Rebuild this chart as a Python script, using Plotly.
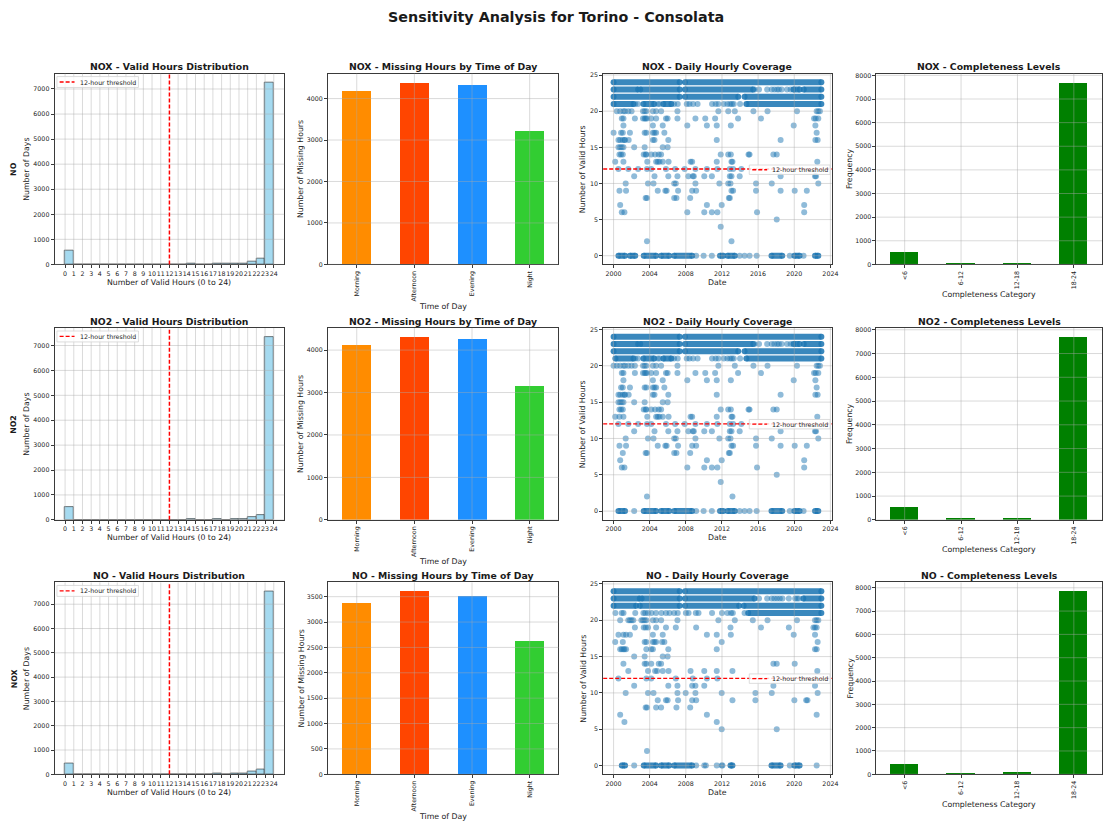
import plotly.graph_objects as go
from plotly.subplots import make_subplots

W, H = 1115, 825
FONT = "DejaVu Sans"

# ---------------- data ----------------
SUPTITLE = "Sensitivity Analysis for Torino - Consolata"
TITLE_POLLUTANTS = ["NOX", "NO2", "NO"]      # used in subplot titles
ROW_LABELS = ["NO", "NO2", "NOX"]            # bold row labels on the left

HIST_EDGES = list(range(0, 25))               # bin edges 0..24 (also tick labels)
HIST_COUNTS_NOX = [565, 3, 2, 3, 2, 3, 5, 6, 5, 8, 9, 10, 10, 12, 14, 12, 10, 15, 14, 15, 28, 107, 226, 7253]
HIST_COUNTS_NO2 = [520, 3, 2, 3, 2, 3, 5, 6, 5, 8, 9, 10, 10, 12, 14, 12, 10, 18, 12, 16, 32, 115, 213, 7336]
HIST_COUNTS_NO = [433, 2, 1, 2, 2, 2, 3, 4, 4, 6, 6, 8, 8, 9, 10, 9, 8, 28, 10, 14, 28, 120, 210, 7520]

TIME_OF_DAY = ["Morning", "Afternoon", "Evening", "Night"]
TOD_COLORS = ["#FF8C00", "#FF4500", "#1E90FF", "#32CD32"]
MISSING_NOX = [4192, 4384, 4344, 3232]
MISSING_NO2 = [4117, 4305, 4258, 3162]
MISSING_NO = [3363, 3600, 3507, 2622]

COMPLETENESS_CATS = ["<6", "6-12", "12-18", "18-24"]
COMPLETE_NOX = [548, 55, 95, 7692]
COMPLETE_NO2 = [521, 50, 85, 7689]
COMPLETE_NO = [440, 35, 65, 7835]

THRESHOLD = 12

# Daily coverage scatter (decimal years).  Dense runs of markers as (start, end) runs per level.
BANDS_NOX = {
    24: [(2000.0, 2007.32), (2007.90, 2023.0)],
    23: [(2000.0, 2002.72), (2002.95, 2007.32), (2007.90, 2015.45), (2019.9, 2020.6), (2021.05, 2023.0)],
    22: [(2000.0, 2007.32), (2007.90, 2013.8), (2014.5, 2023.0)],
    21: [(2000.0, 2002.2), (2003.3, 2004.5), (2005.5, 2006.4), (2014.7, 2023.0)],
    0: [(2000.54, 2001.27), (2001.81, 2002.40), (2003.34, 2004.71), (2005.26, 2006.16), (2006.71, 2008.70),
        (2011.78, 2012.15), (2012.62, 2013.42), (2017.48, 2018.67), (2020.01, 2020.59), (2022.30, 2022.66)],
}
POINTS_NOX = {
    23: [2015.6, 2016.1, 2017.0, 2017.5, 2017.8, 2018.1, 2018.3, 2018.6, 2019.2, 2019.6],
    21: [2002.4, 2002.7, 2004.9, 2005.1, 2006.7, 2007.1, 2008.1, 2008.4, 2008.8, 2009.3, 2010.9, 2011.3,
         2011.6, 2012.2, 2012.6, 2012.9, 2013.1, 2013.3, 2014.0],
    20: [2000.36, 2000.73, 2001.09, 2001.27, 2001.63, 2001.99, 2003.26, 2003.44, 2003.63, 2004.35, 2004.71,
         2005.26, 2007.07, 2011.60, 2012.69, 2013.42, 2015.48, 2017.04, 2020.30, 2022.48, 2022.66, 2022.84],
    19: [2000.91, 2001.09, 2002.36, 2003.26, 2003.44, 2003.55, 2003.70, 2004.17, 2004.71, 2005.80, 2005.98,
         2007.07, 2009.06, 2010.15, 2011.24, 2013.78, 2016.32, 2022.19, 2022.37, 2022.66],
    18: [2001.09, 2004.35, 2005.44, 2008.16, 2010.33, 2011.42, 2012.98, 2019.94, 2022.34],
    17: [2000.0, 2000.83, 2001.02, 2001.81, 2003.44, 2003.63, 2004.35, 2004.53, 2004.71, 2005.62, 2022.48],
    16: [2000.54, 2000.73, 2001.02, 2001.20, 2001.27, 2001.67, 2004.35, 2004.53, 2006.06, 2011.42, 2018.49,
         2022.34, 2022.59],
    15: [2000.54, 2000.73, 2000.91, 2001.09, 2002.28, 2003.44, 2005.44, 2005.98],
    14: [2000.65, 2000.83, 2001.02, 2003.34, 2003.55, 2003.63, 2004.17, 2004.60, 2005.00, 2005.26, 2011.86,
         2012.69, 2012.98, 2014.94, 2015.05, 2017.69, 2018.06],
    13: [2000.18, 2001.09, 2003.73, 2004.71, 2004.89, 2005.08, 2005.44, 2006.09, 2008.52, 2008.70, 2011.42,
         2013.05, 2013.16, 2022.55],
    12: [2000.54, 2001.63, 2002.72, 2003.70, 2004.17, 2005.80, 2006.82, 2007.87, 2009.06, 2010.33, 2011.49,
         2012.87, 2013.23, 2014.14],
    11: [2002.28, 2004.53, 2006.06, 2007.07, 2008.27, 2008.77, 2008.88, 2010.04, 2010.88, 2012.87, 2013.05,
         2013.96, 2018.49, 2022.30, 2022.41],
    10: [2001.34, 2003.81, 2004.42, 2006.71, 2006.89, 2009.06, 2011.71, 2012.69, 2012.94, 2015.77, 2017.51,
         2022.66],
    9: [2000.65, 2001.38, 2004.89, 2005.73, 2005.87, 2007.14, 2008.70, 2009.14, 2013.05, 2013.23, 2015.77,
        2018.49, 2020.05, 2021.39],
    8: [2003.55, 2003.70, 2006.71, 2006.96, 2008.48, 2012.76, 2012.87],
    7: [2000.73, 2010.33, 2011.97, 2021.10],
    6: [2000.91, 2001.20, 2008.16, 2010.04, 2010.88, 2011.49, 2015.88, 2021.10],
    5: [2018.06],
    4: [2011.86],
    2: [2003.70, 2013.05],
    0: [2009.14, 2009.97, 2010.88, 2013.96, 2014.50, 2015.05, 2015.84, 2019.51, 2021.03],
}

BANDS_NO2 = {
    24: [(2000.0, 2007.32), (2007.90, 2023.0)],
    23: [(2000.0, 2002.72), (2002.95, 2007.32), (2007.90, 2015.45), (2019.9, 2020.6), (2021.05, 2023.0)],
    22: [(2000.0, 2007.32), (2007.90, 2013.8), (2014.5, 2023.0)],
    21: [(2000.2, 2002.2), (2003.3, 2004.5), (2005.5, 2006.4), (2014.7, 2023.0)],
    0: [(2000.54, 2001.27), (2003.34, 2004.71), (2005.26, 2006.16), (2006.71, 2008.70),
        (2011.78, 2012.15), (2012.62, 2013.42), (2017.48, 2018.67), (2020.01, 2020.59), (2022.30, 2022.66)],
}
POINTS_NO2 = {
    23: [2015.6, 2016.1, 2017.0, 2017.5, 2017.8, 2018.1, 2018.3, 2018.6, 2019.2, 2019.6],
    21: [2002.4, 2002.7, 2004.9, 2005.1, 2006.7, 2007.1, 2008.1, 2008.4, 2008.8, 2009.3, 2010.9, 2011.3,
         2011.6, 2012.2, 2012.6, 2012.9, 2013.1, 2013.3, 2014.0],
    20: [2000.0, 2000.36, 2000.73, 2001.09, 2001.27, 2001.63, 2001.99, 2002.36, 2003.26, 2003.44, 2003.63,
         2004.35, 2004.71, 2005.26, 2007.07, 2011.60, 2013.42, 2015.48, 2017.04, 2020.30, 2022.48, 2022.66,
         2022.84],
    19: [2000.91, 2001.09, 2002.36, 2003.26, 2003.44, 2003.55, 2003.70, 2004.17, 2004.71, 2005.80, 2005.98,
         2007.07, 2009.06, 2010.15, 2011.24, 2013.78, 2016.32, 2022.19, 2022.37, 2022.66],
    18: [2001.09, 2004.35, 2005.44, 2008.16, 2010.33, 2011.42, 2012.98, 2019.94, 2022.34],
    17: [2000.83, 2001.02, 2001.81, 2003.44, 2003.63, 2004.35, 2004.53, 2004.71, 2005.62, 2022.48],
    16: [2000.54, 2000.73, 2001.02, 2001.20, 2001.27, 2001.67, 2004.35, 2004.53, 2006.06, 2011.42, 2018.49,
         2022.34, 2022.59],
    15: [2000.54, 2000.73, 2000.91, 2001.09, 2002.28, 2003.44, 2005.44, 2005.98],
    14: [2000.65, 2000.83, 2001.02, 2003.34, 2003.55, 2003.63, 2004.17, 2004.60, 2005.00, 2005.26, 2011.86,
         2012.69, 2012.98, 2014.94, 2015.05, 2017.69, 2018.06],
    13: [2000.18, 2000.65, 2001.09, 2003.73, 2004.71, 2004.89, 2005.08, 2005.44, 2006.09, 2008.52, 2008.70,
         2011.42, 2013.05, 2013.16, 2022.55],
    12: [2000.54, 2001.63, 2002.72, 2003.70, 2004.17, 2005.80, 2006.82, 2007.87, 2009.06, 2010.33, 2011.49,
         2012.87, 2013.23, 2014.14],
    11: [2002.28, 2004.53, 2006.06, 2007.07, 2008.27, 2008.77, 2008.88, 2010.04, 2010.88, 2012.87, 2013.05,
         2013.96, 2018.49, 2022.30, 2022.41],
    10: [2001.34, 2003.81, 2004.42, 2006.71, 2006.89, 2009.06, 2011.71, 2012.69, 2012.94, 2015.77, 2017.51,
         2022.66],
    9: [2000.65, 2001.38, 2004.89, 2005.73, 2005.87, 2007.14, 2008.70, 2009.14, 2013.05, 2013.23, 2015.77,
        2018.49, 2020.05, 2021.39],
    8: [2001.02, 2003.55, 2003.70, 2006.71, 2006.96, 2008.48, 2012.76, 2012.87],
    7: [2000.73, 2010.33, 2011.97, 2021.10],
    6: [2000.91, 2001.20, 2008.16, 2010.04, 2010.88, 2011.49, 2015.88, 2021.10],
    5: [2018.06],
    4: [2011.86],
    2: [2003.70, 2013.16],
    0: [2002.28, 2009.14, 2009.97, 2010.88, 2013.96, 2014.50, 2015.05, 2015.84, 2019.51, 2021.03],
}

BANDS_NO = {
    24: [(2000.0, 2007.32), (2007.90, 2023.0)],
    23: [(2000.0, 2002.9), (2003.1, 2007.32), (2007.90, 2015.6), (2021.0, 2023.0)],
    22: [(2000.0, 2002.5), (2002.9, 2007.32), (2007.90, 2013.9), (2014.4, 2023.0)],
    21: [(2014.9, 2023.0)],
    0: [(2000.91, 2001.27), (2003.34, 2004.71), (2005.26, 2006.16), (2006.71, 2008.70),
        (2012.94, 2013.16), (2017.48, 2018.49), (2020.01, 2020.59)],
}
POINTS_NO = {
    23: [2016.1, 2017.0, 2017.5, 2017.8, 2018.1, 2018.4, 2018.7, 2019.4, 2020.1, 2020.3, 2020.5],
    21: [2000.2, 2000.9, 2001.1, 2002.4, 2003.3, 2003.5, 2003.8, 2004.2, 2004.7, 2005.3, 2005.8, 2006.2,
         2006.7, 2007.1, 2008.0, 2008.3, 2009.1, 2009.4, 2010.9, 2012.0, 2012.6, 2013.0, 2013.2, 2014.5],
    20: [2000.73, 2001.63, 2001.81, 2001.99, 2002.18, 2003.08, 2003.26, 2003.44, 2003.63, 2004.35, 2004.71,
         2005.26, 2007.07, 2011.60, 2013.42, 2015.41, 2017.04, 2020.30, 2022.30, 2022.48, 2022.66],
    19: [2002.36, 2003.34, 2003.55, 2003.81, 2004.71, 2005.80, 2006.89, 2009.14, 2012.94, 2016.32, 2019.40,
         2022.12, 2022.30, 2022.48],
    18: [2000.54, 2001.09, 2001.38, 2001.81, 2004.35, 2005.44, 2010.33, 2011.42, 2012.98, 2019.94, 2022.30],
    17: [2000.18, 2001.02, 2003.44, 2003.63, 2004.35, 2004.53, 2004.71, 2005.37, 2005.62, 2011.97, 2022.59],
    16: [2000.73, 2000.91, 2001.09, 2001.20, 2001.38, 2003.63, 2004.17, 2004.35, 2006.06, 2011.42, 2022.30,
         2022.48],
    15: [2002.28, 2003.44, 2005.44, 2005.98],
    14: [2001.09, 2003.44, 2003.63, 2004.17, 2005.00, 2005.26, 2017.69, 2018.06, 2020.05],
    13: [2001.63, 2003.81, 2004.60, 2004.82, 2005.44, 2006.09, 2008.52, 2010.04, 2011.42, 2013.16, 2022.55],
    12: [2000.54, 2003.63, 2004.17, 2006.89, 2008.77, 2010.33, 2011.49],
    11: [2002.28, 2006.06, 2007.07, 2008.70, 2009.06, 2010.04, 2017.69, 2022.30],
    10: [2001.34, 2003.81, 2004.42, 2007.07, 2007.98, 2009.06, 2011.97, 2015.70, 2017.51, 2022.59],
    9: [2004.89, 2005.80, 2005.98, 2007.14, 2008.70, 2009.14, 2013.16, 2015.70, 2020.01, 2021.32, 2021.46],
    8: [2003.55, 2003.70, 2004.71, 2005.26, 2006.96, 2008.48],
    7: [2000.73, 2010.33, 2022.48],
    6: [2001.20, 2011.42],
    5: [2011.97, 2018.06],
    2: [2003.70],
    0: [2002.28, 2009.14, 2010.04, 2010.22, 2011.42, 2011.97, 2012.05, 2019.51, 2022.48],
}

SCATTER_XTICKS = [2000, 2004, 2008, 2012, 2016, 2020, 2024]
SCATTER_YTICKS = [0, 5, 10, 15, 20, 25]
HIST_YTICKS = [0, 1000, 2000, 3000, 4000, 5000, 6000, 7000]
MISSING_YTICKS = [[0, 1000, 2000, 3000, 4000], [0, 1000, 2000, 3000, 4000],
                  [0, 500, 1000, 1500, 2000, 2500, 3000, 3500]]
COMPLETE_YTICKS = [0, 1000, 2000, 3000, 4000, 5000, 6000, 7000, 8000]

HISTS = [HIST_COUNTS_NOX, HIST_COUNTS_NO2, HIST_COUNTS_NO]
MISSING = [MISSING_NOX, MISSING_NO2, MISSING_NO]
COMPLETE = [COMPLETE_NOX, COMPLETE_NO2, COMPLETE_NO]
BANDS = [BANDS_NOX, BANDS_NO2, BANDS_NO]
POINTS = [POINTS_NOX, POINTS_NO2, POINTS_NO]

# ---------------- layout geometry (pixels) ----------------
COLS_PX = [(55, 286), (330, 562), (607, 837), (882, 1109)]
ROWS_PX = [(72, 264), (328, 521), (584, 777)]

GRID = "rgba(170,170,170,0.55)"
SPINE = "#3a3a3a"
TXT = "#1a1a1a"
TICK_SIZE = 6.3
LABEL_SIZE = 7.8
TITLE_SIZE = 9.3
MSIZE = 6


def px(x):
    return x / W


def py(y):
    return 1 - y / H


fig = make_subplots(rows=3, cols=4)
shapes = []
annotations = []


def ax_names(n):
    xa = "x" if n == 1 else f"x{n}"
    ya = "y" if n == 1 else f"y{n}"
    return xa, ya


def add_grid(n, xvals, yvals, skip_x=()):
    xa, ya = ax_names(n)
    for v in xvals:
        if v in skip_x:
            continue
        shapes.append(dict(type="line", xref=xa, yref=f"{ya} domain", x0=v, x1=v, y0=0, y1=1,
                           line=dict(color=GRID, width=0.8), layer="above"))
    for v in yvals:
        shapes.append(dict(type="line", xref=f"{xa} domain", yref=ya, x0=0, x1=1, y0=v, y1=v,
                           line=dict(color=GRID, width=0.8), layer="above"))


def text(x, y, s, size=LABEL_SIZE, angle=0, xanchor="center", yanchor="middle", bold=False):
    annotations.append(dict(x=px(x), y=py(y), xref="paper", yref="paper", text=(f"<b>{s}</b>" if bold else s),
                            showarrow=False, textangle=angle, xanchor=xanchor, yanchor=yanchor,
                            font=dict(family=FONT, size=size, color=TXT)))


def legend_box(x0, y0, x1, y1, line_x0, line_x1, label_x):
    ym = (y0 + y1) / 2
    shapes.append(dict(type="rect", xref="paper", yref="paper", x0=px(x0), x1=px(x1), y0=py(y1), y1=py(y0),
                       line=dict(color="#d4d4d4", width=0.8), fillcolor="rgba(255,255,255,0.8)", layer="above"))
    shapes.append(dict(type="line", xref="paper", yref="paper", x0=px(line_x0), x1=px(line_x1), y0=py(ym), y1=py(ym),
                       line=dict(color="red", width=1.3, dash="4px,2px"), layer="above"))
    text(label_x, ym, "12-hour threshold", size=TICK_SIZE, xanchor="left")


axis_common = dict(showline=True, mirror=True, linecolor=SPINE, linewidth=1, ticks="outside", ticklen=3,
                   tickwidth=0.8, tickcolor=SPINE, showgrid=False, zeroline=False,
                   tickfont=dict(family=FONT, size=TICK_SIZE, color=TXT))

for r in range(3):
    top, bot = ROWS_PX[r]
    ymid = (top + bot) / 2
    pol = TITLE_POLLUTANTS[r]
    for c in range(4):
        l, rr = COLS_PX[c]
        fig.update_xaxes(domain=[px(l), px(rr)], row=r + 1, col=c + 1, **axis_common)
        fig.update_yaxes(domain=[py(bot), py(top)], row=r + 1, col=c + 1, **axis_common)

    # ---- column 1: histogram ----
    counts = HISTS[r]
    centers = [(HIST_EDGES[i] + HIST_EDGES[i + 1]) / 2 for i in range(len(HIST_EDGES) - 1)]
    fig.add_trace(go.Bar(x=centers, y=counts, width=1,
                         marker=dict(color="rgba(135,206,235,0.75)", line=dict(color="rgba(40,40,40,0.75)", width=0.8))),
                  row=r + 1, col=1)
    hmax = max(counts) * 1.05
    fig.update_xaxes(range=[-1.2, 25.2], tickmode="array", tickvals=HIST_EDGES, tickangle=0,
                     ticktext=[str(v) for v in HIST_EDGES], row=r + 1, col=1)
    fig.update_yaxes(range=[0, hmax], tickmode="array", tickvals=HIST_YTICKS, row=r + 1, col=1)
    n1 = r * 4 + 1
    add_grid(n1, HIST_EDGES, HIST_YTICKS, skip_x=(THRESHOLD,))
    xa, ya = ax_names(n1)
    shapes.append(dict(type="line", xref=xa, yref=f"{ya} domain", x0=THRESHOLD, x1=THRESHOLD, y0=0, y1=1,
                       line=dict(color="red", width=1.5, dash="4px,2px"), layer="above"))
    legend_box(57.3, top + 3, 139.3, top + 14, 60, 75, 78.5)
    text((55 + 286) / 2, top - 7, f"{pol} - Valid Hours Distribution", size=TITLE_SIZE, bold=True)
    text(170.5, bot + 18, "Number of Valid Hours (0 to 24)")
    text(27, ymid, "Number of Days", angle=-90)
    text(14, ymid, ROW_LABELS[r], angle=-90, bold=True)

    # ---- column 2: missing hours by time of day ----
    vals = MISSING[r]
    fig.add_trace(go.Bar(x=TIME_OF_DAY, y=vals, width=0.5, marker=dict(color=TOD_COLORS, line=dict(width=0))),
                  row=r + 1, col=2)
    fig.update_xaxes(type="category", range=[-0.5, 3.5], tickangle=-90, row=r + 1, col=2)
    fig.update_yaxes(range=[0, max(vals) * 1.05], tickmode="array", tickvals=MISSING_YTICKS[r], row=r + 1, col=2)
    add_grid(r * 4 + 2, list(range(len(TIME_OF_DAY))), MISSING_YTICKS[r])
    text((330 + 562) / 2, top - 7, f"{pol} - Missing Hours by Time of Day", size=TITLE_SIZE, bold=True)
    text(446, bot + 42, "Time of Day")
    text(303, ymid, "Number of Missing Hours", angle=-90)

    # ---- column 3: daily coverage scatter ----
    bx, by = [], []
    for h, segs in BANDS[r].items():
        for a, b in segs:
            bx += [a, b, None]
            by += [h, h, None]
    fig.add_trace(go.Scatter(x=bx, y=by, mode="lines+markers",
                             line=dict(color="rgba(31,119,180,0.88)", width=MSIZE),
                             marker=dict(size=MSIZE, color="rgba(31,119,180,0.88)", line=dict(width=0))),
                  row=r + 1, col=3)
    sx, sy = [], []
    for h, yrs in POINTS[r].items():
        sx += yrs
        sy += [h] * len(yrs)
    fig.add_trace(go.Scatter(x=sx, y=sy, mode="markers",
                             marker=dict(size=MSIZE, color="rgba(31,119,180,0.5)", line=dict(width=0))),
                  row=r + 1, col=3)
    fig.update_xaxes(range=[1998.85, 2024.15], tickmode="array", tickvals=SCATTER_XTICKS, tickangle=0,
                     ticktext=[str(v) for v in SCATTER_XTICKS], row=r + 1, col=3)
    fig.update_yaxes(range=[-1.2, 25.2], tickmode="array", tickvals=SCATTER_YTICKS, row=r + 1, col=3)
    n3 = r * 4 + 3
    add_grid(n3, SCATTER_XTICKS, SCATTER_YTICKS)
    xa, ya = ax_names(n3)
    shapes.append(dict(type="line", xref=f"{xa} domain", yref=ya, x0=0, x1=1, y0=THRESHOLD, y1=THRESHOLD,
                       line=dict(color="red", width=1.3, dash="4px,2px"), layer="above"))
    legend_box(754, top + 92, 835.3, top + 101.5, 757, 772, 775)
    text((607 + 837) / 2, top - 7, f"{pol} - Daily Hourly Coverage", size=TITLE_SIZE, bold=True)
    text(722, bot + 18, "Date")
    text(587, ymid, "Number of Valid Hours", angle=-90)

    # ---- column 4: completeness levels ----
    cv = COMPLETE[r]
    fig.add_trace(go.Bar(x=COMPLETENESS_CATS, y=cv, width=0.5, marker=dict(color="green", line=dict(width=0))),
                  row=r + 1, col=4)
    fig.update_xaxes(type="category", range=[-0.5, 3.5], tickangle=-90, row=r + 1, col=4)
    fig.update_yaxes(range=[0, max(cv) * 1.05], tickmode="array", tickvals=COMPLETE_YTICKS, row=r + 1, col=4)
    add_grid(r * 4 + 4, list(range(len(COMPLETENESS_CATS))), COMPLETE_YTICKS)
    text((882 + 1109) / 2, top - 7, f"{pol} - Completeness Levels", size=TITLE_SIZE, bold=True)
    text(995.5, bot + 30, "Completeness Category")
    text(855.5, ymid, "Frequency", angle=-90)

text(560, 15, SUPTITLE, size=14.3, bold=True)

fig.update_layout(width=W, height=H, margin=dict(l=0, r=0, t=0, b=0), showlegend=False,
                  paper_bgcolor="white", plot_bgcolor="white", bargap=0,
                  font=dict(family=FONT, color=TXT), shapes=shapes, annotations=annotations)

fig.write_html("out.html")
